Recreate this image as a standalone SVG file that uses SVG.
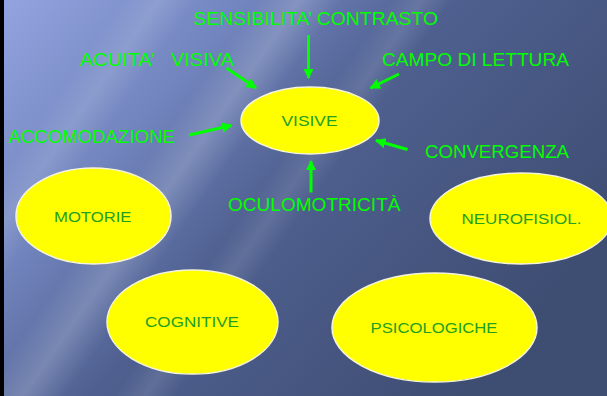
<svg xmlns="http://www.w3.org/2000/svg" width="607" height="396" viewBox="0 0 607 396">
<defs>
<linearGradient id="bg" x1="0" y1="0" x2="1" y2="0.6">
<stop offset="0" stop-color="#93a4e0"/>
<stop offset="0.3" stop-color="#7285be"/>
<stop offset="0.55" stop-color="#4f6090"/>
<stop offset="1" stop-color="#3e4d72"/>
</linearGradient>
<linearGradient id="streak" x1="0" y1="0" x2="1" y2="0">
<stop offset="0" stop-color="#ffffff" stop-opacity="0"/>
<stop offset="0.5" stop-color="#ffffff" stop-opacity="0.18"/>
<stop offset="1" stop-color="#ffffff" stop-opacity="0"/>
</linearGradient>
<marker id="ah" viewBox="0 0 10 10" refX="9" refY="5" markerWidth="3.5" markerHeight="3.5" orient="auto" markerUnits="strokeWidth">
<path d="M0,0 L10,5 L0,10 z" fill="#00ff00"/>
</marker>
</defs>
<style>
.node ellipse{fill:#ffff00;stroke:#f4f4d8;stroke-width:1.5}
.node text{font-family:"Liberation Sans",Arial,sans-serif;font-size:15.5px;fill:#22a022}
.lbl{font-family:"Liberation Sans",Arial,sans-serif;font-size:17.5px;fill:#00ff00}
#connectors line{stroke:#00ff00;stroke-width:3;marker-end:url(#ah)}
</style>
<rect width="607" height="396" fill="url(#bg)"/>
<g transform="rotate(35 300 200)">
<rect x="150" y="-300" width="70" height="900" fill="url(#streak)"/>
<rect x="40" y="-300" width="60" height="900" fill="url(#streak)" opacity="0.7"/>
<rect x="260" y="-300" width="50" height="900" fill="url(#streak)" opacity="0.6"/>
</g>
<rect x="0" y="0" width="4" height="396" fill="#000"/>

<g id="labels">
<text class="lbl" x="193.5" y="25" textLength="244.5" lengthAdjust="spacingAndGlyphs">SENSIBILITA’ CONTRASTO</text>
<text class="lbl" x="80" y="66" xml:space="preserve" textLength="154" lengthAdjust="spacingAndGlyphs">ACUITA’   VISIVA</text>
<text class="lbl" x="382" y="66" textLength="187" lengthAdjust="spacingAndGlyphs">CAMPO DI LETTURA</text>
<text class="lbl" x="8.5" y="143" textLength="166.5" lengthAdjust="spacingAndGlyphs">ACCOMODAZIONE</text>
<text class="lbl" x="425" y="158" textLength="144" lengthAdjust="spacingAndGlyphs">CONVERGENZA</text>
<text class="lbl" x="228" y="211" textLength="172.5" lengthAdjust="spacingAndGlyphs">OCULOMOTRICITÀ</text>
</g>

<g id="connectors">
<line x1="308.5" y1="35" x2="308.5" y2="78"/>
<line x1="226.5" y1="68" x2="256" y2="88"/>
<line x1="399" y1="74" x2="370.5" y2="88"/>
<line x1="189" y1="135" x2="231.5" y2="125.5"/>
<line x1="407.5" y1="149.5" x2="376" y2="140.5"/>
<line x1="311" y1="192.5" x2="311" y2="161"/>
</g>

<g id="visive" class="node"><ellipse cx="310" cy="120.5" rx="69" ry="33.5"/><text x="281.5" y="126" textLength="56" lengthAdjust="spacingAndGlyphs">VISIVE</text></g>
<g id="motorie" class="node"><ellipse cx="93.5" cy="216" rx="77.5" ry="48"/><text x="54" y="221.5" textLength="77.5" lengthAdjust="spacingAndGlyphs">MOTORIE</text></g>
<g id="neurofisiol" class="node"><ellipse cx="521" cy="218.5" rx="91" ry="45.5"/><text x="461.5" y="224" textLength="120" lengthAdjust="spacingAndGlyphs">NEUROFISIOL.</text></g>
<g id="cognitive" class="node"><ellipse cx="192.5" cy="322" rx="85.5" ry="52"/><text x="145" y="326.5" textLength="94" lengthAdjust="spacingAndGlyphs">COGNITIVE</text></g>
<g id="psicologiche" class="node"><ellipse cx="434.5" cy="327.5" rx="102.5" ry="54.5"/><text x="370.5" y="332.5" textLength="127" lengthAdjust="spacingAndGlyphs">PSICOLOGICHE</text></g>
</svg>
